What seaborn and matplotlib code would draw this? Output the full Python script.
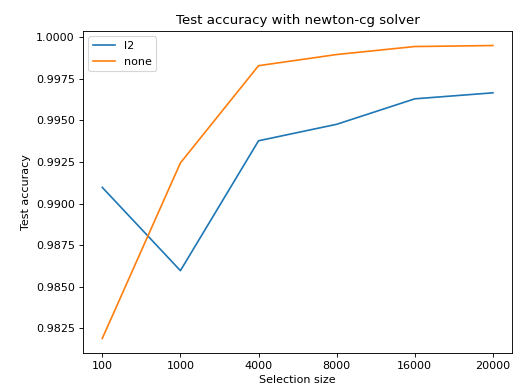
import matplotlib
matplotlib.use("Agg")
import matplotlib.pyplot as plt
import seaborn as sns
import pandas as pd

sizes = ["100", "1000", "4000", "8000", "16000", "20000"]
l2_acc = [0.99097, 0.98597, 0.99377, 0.99476, 0.99629, 0.99665]
none_acc = [0.98190, 0.99244, 0.99828, 0.99895, 0.99943, 0.99949]

df = pd.DataFrame({
    "size": sizes * 2,
    "acc": l2_acc + none_acc,
    "penalty": ["l2"] * len(sizes) + ["none"] * len(sizes),
})

dpi = 80.3
fig = plt.figure(figsize=(514 / dpi, 391 / dpi), dpi=dpi)
ax = fig.add_axes([0.161, 0.097, 0.836, 0.824])
sns.lineplot(data=df, x="size", y="acc", hue="penalty", sort=False, ax=ax,
             palette=["#1f77b4", "#ff7f0e"])
ax.legend(loc="upper left")
ax.set_title("Test accuracy with newton-cg solver")
ax.set_xlabel("Selection size")
ax.set_ylabel("Test accuracy")
fig.savefig("out.png", dpi=dpi)
